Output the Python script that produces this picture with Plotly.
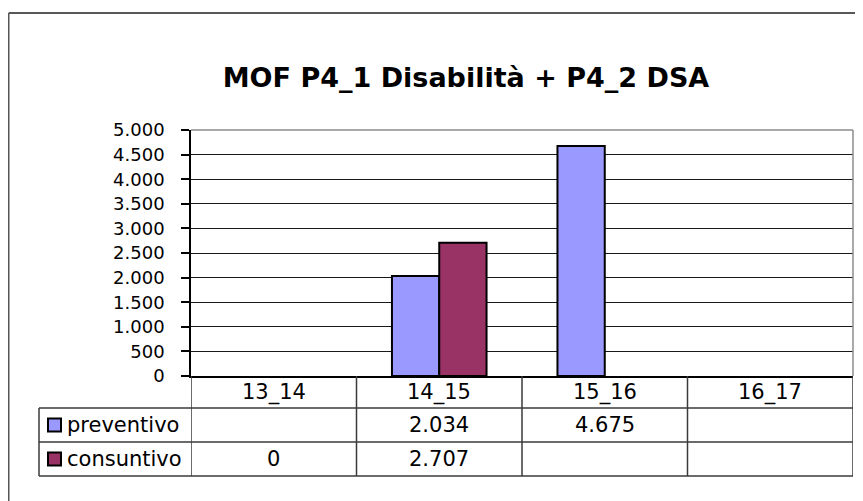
import plotly.graph_objects as go

categories = ["13_14", "14_15", "15_16", "16_17"]
preventivo = [None, 2034, 4675, None]
consuntivo = [0, 2707, None, None]
series_names = ["preventivo", "consuntivo"]
series_colors = ["#9999FF", "#993366"]
title_text = "MOF P4_1 Disabilità + P4_2 DSA"

# the page body adds an 8px margin; lay out in page pixels and subtract it
OFF = 8
W, H = 863 - OFF, 501 - OFF
PL, PR, PT, PB = 191, 853, 130, 376  # plot area in page pixels
L, T = PL - OFF, PT - OFF
R, B = W - (PR - OFF), H - (PB - OFF)
PW, PH = W - L - R, H - T - B


def px(p):
    return (p - OFF - L) / PW


def py(p):
    return (H - B - (p - OFF)) / PH


def fmt(v):
    return f"{v:,.0f}".replace(",", ".")


fig = go.Figure()
for name, vals, col in zip(series_names, [preventivo, consuntivo], series_colors):
    fig.add_trace(go.Bar(
        x=categories, y=vals, name=name,
        marker=dict(color=col,
                    line=dict(color="#000000",
                              width=[0 if (v is None or v == 0) else 2 for v in vals])),
        showlegend=False,
    ))

shapes = []
annotations = []
line_col = "#3a3a3a"

# plot area top/right border (gray)
shapes.append(dict(type="line", xref="paper", yref="paper", x0=0, x1=1, y0=1, y1=1,
                   line=dict(color="#8c8c8c", width=1.5), layer="above"))
shapes.append(dict(type="line", xref="paper", yref="paper", x0=1, x1=1, y0=0, y1=1,
                   line=dict(color="#8c8c8c", width=1.5), layer="above"))

# data table geometry (page pixels)
row_tops = [376, 408, 442, 476]
legend_left = 39
n = len(categories)
for i in range(n + 1):
    shapes.append(dict(type="line", xref="x", yref="paper", x0=i - 0.5, x1=i - 0.5,
                       y0=py(row_tops[0]), y1=py(row_tops[-1]),
                       line=dict(color=line_col, width=1.5), layer="above"))
shapes.append(dict(type="line", xref="paper", yref="paper", x0=px(legend_left), x1=px(legend_left),
                   y0=py(row_tops[1]), y1=py(row_tops[-1]),
                   line=dict(color=line_col, width=1.5), layer="above"))
for yv in row_tops[1:]:
    shapes.append(dict(type="line", xref="paper", yref="paper", x0=px(legend_left), x1=1,
                       y0=py(yv), y1=py(yv),
                       line=dict(color=line_col, width=1.5), layer="above"))

for c in categories:
    annotations.append(dict(x=c, xref="x", y=py((row_tops[0] + row_tops[1]) / 2), yref="paper",
                            text=c, showarrow=False, xanchor="center", yanchor="middle",
                            font=dict(family="DejaVu Sans", size=21, color="#000000")))

for r, (name, vals, col) in enumerate(zip(series_names, [preventivo, consuntivo], series_colors)):
    yc = (row_tops[r + 1] + row_tops[r + 2]) / 2
    shapes.append(dict(type="rect", xref="paper", yref="paper",
                       x0=px(48), x1=px(61), y0=py(yc - 6.5), y1=py(yc + 6.5),
                       fillcolor=col, line=dict(color="#000000", width=2), layer="above"))
    annotations.append(dict(x=px(65), xref="paper", y=py(yc), yref="paper", text=name,
                            showarrow=False, xanchor="left", yanchor="middle",
                            font=dict(family="DejaVu Sans", size=21, color="#000000")))
    for c, v in zip(categories, vals):
        if v is None:
            continue
        annotations.append(dict(x=c, xref="x", y=py(yc), yref="paper", text=fmt(v),
                                showarrow=False, xanchor="center", yanchor="middle",
                                font=dict(family="DejaVu Sans", size=21, color="#000000")))

# outer chart border (top and left)
shapes.append(dict(type="line", xref="paper", yref="paper", x0=px(OFF + 0.75), x1=px(863 + 5),
                   y0=py(13), y1=py(13), line=dict(color="#202020", width=1.5), layer="above"))
shapes.append(dict(type="line", xref="paper", yref="paper", x0=px(OFF + 0.75), x1=px(OFF + 0.75),
                   y0=py(13), y1=py(501 + 5), line=dict(color="#555555", width=1.5), layer="above"))

fig.update_layout(
    width=W, height=H,
    margin=dict(l=L, r=R, t=T, b=B, pad=0),
    paper_bgcolor="#FFFFFF", plot_bgcolor="#FFFFFF",
    separators=",.",
    barmode="group", bargap=1.5 / 3.5, bargroupgap=0,
    title=dict(text=title_text, x=(466 - OFF) / W, xanchor="center", xref="container",
               y=1 - (78 - OFF) / H, yanchor="middle", yref="container",
               font=dict(family="DejaVu Sans", size=27, color="#000000", weight="bold")),
    xaxis=dict(type="category", range=[-0.5, n - 0.5], showticklabels=False, ticks="",
               showgrid=False, showline=True, linecolor="#000000", linewidth=1.5,
               zeroline=False, fixedrange=True),
    yaxis=dict(range=[0, 5000], dtick=500, tick0=0, tickformat=",.0f",
               showgrid=True, gridcolor="#1a1a1a", gridwidth=1,
               showline=True, linecolor="#000000", linewidth=1.5,
               ticks="outside", ticklen=8, tickcolor="#000000", tickwidth=1.5,
               ticklabelstandoff=13,
               tickfont=dict(family="DejaVu Sans", size=18, color="#000000"),
               zeroline=False, fixedrange=True),
    shapes=shapes, annotations=annotations,
)

fig.write_html("out.html")
